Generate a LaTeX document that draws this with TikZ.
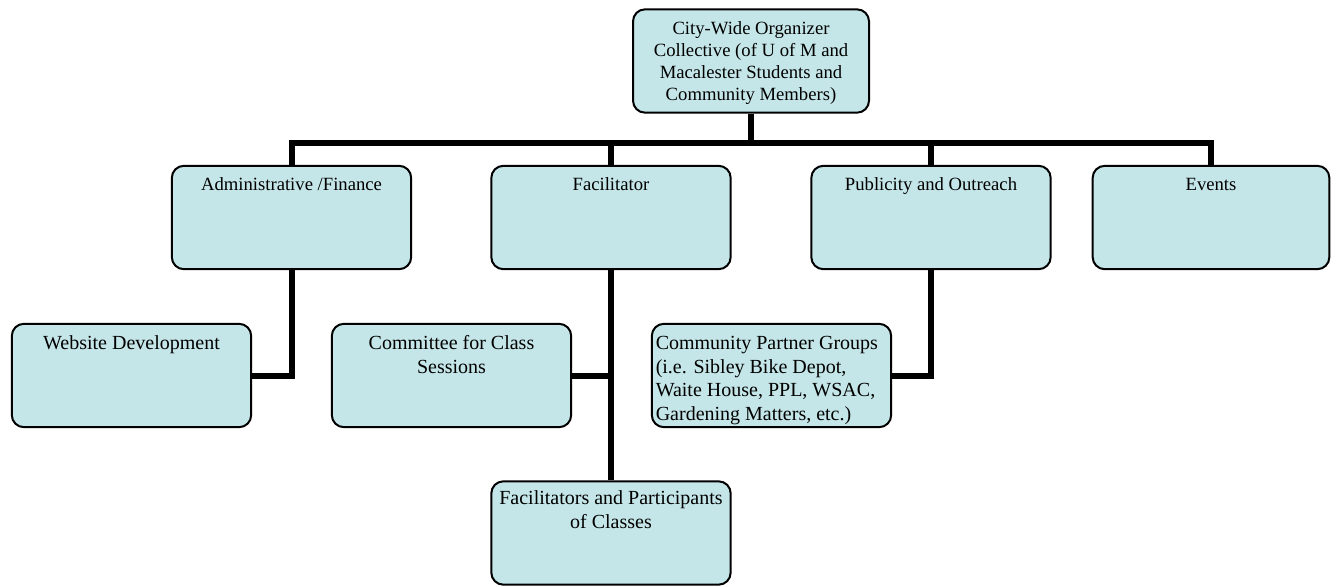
\documentclass[tikz,border=0pt]{standalone}
\usepackage{fontspec}
\setmainfont{Liberation Serif}
\definecolor{boxfill}{RGB}{197,230,232}
\tikzset{
  box/.style={draw=black, line width=1.5pt, fill=boxfill, rounded corners=9pt,
    minimum width=179.5pt, minimum height=77.5pt, inner sep=0pt},
  txt/.style={font=\fontsize{14}{16.5}\selectfont, align=center, inner sep=0pt, anchor=north},
  txtb/.style={txt, font=\fontsize{15}{17.8}\selectfont},
  conn/.style={line width=4.5pt, draw=black}
}
\begin{document}
\begin{tikzpicture}[x=0.75pt,y=-0.75pt]
\useasboundingbox (0,0) rectangle (1337,586);
% boxes
\node[box, minimum width=177pt] (top) at (751,61) {};
\node[box] (adm) at (291.5,217.5) {};
\node[box] (fac) at (611,217.5) {};
\node[box] (pub) at (931,217.5) {};
\node[box, minimum width=177.5pt] (ev) at (1211,217.5) {};
\node[box] (web) at (131.5,375.5) {};
\node[box] (com) at (451.5,375.5) {};
\node[box] (cp) at (771.5,375.5) {};
\node[box] (fp) at (611,533) {};
\coordinate (bar) at (0,143);
% texts
\node[txt] (ttop) at ([yshift=-7.5pt]top.north) {\strut City-Wide Organizer\\Collective (of U of M and\\Macalester Students and\\Community Members)};
\node[txt] (tadm) at ([yshift=-7.5pt]adm.north) {\strut Administrative /Finance};
\node[txt] (tfac) at ([yshift=-7.5pt]fac.north) {\strut Facilitator};
\node[txt] (tpub) at ([yshift=-7.5pt]pub.north) {\strut Publicity and Outreach};
\node[txt] (tev) at ([yshift=-7.5pt]ev.north) {\strut Events};
\node[txtb] (tweb) at ([yshift=-7.2pt]web.north) {\strut Website Development};
\node[txtb] (tcom) at ([yshift=-7.2pt]com.north) {\strut Committee for Class\\Sessions};
\node[txtb, align=left, anchor=north west] (tcp) at ([xshift=3.5pt,yshift=-7.2pt]cp.north west) {\strut Community Partner Groups\\(i.e. Sibley Bike Depot,\\Waite House, PPL, WSAC,\\Gardening Matters, etc.)};
\node[txtb] (tfp) at ([yshift=-5.8pt]fp.north) {\strut Facilitators and Participants\\of Classes};
% connectors
\draw[conn] (top.south) -- (top.south |- bar);
\draw[conn] (adm.north) |- (ev.north |- bar) -- (ev.north);
\draw[conn] (fac.north) -- (fac.north |- bar);
\draw[conn] (pub.north) -- (pub.north |- bar);
\draw[conn] (adm.south) |- (web.east);
\draw[conn] (fac.south) -- (fp.north);
\draw[conn] (com.east) -- (com.east -| fac.south);
\draw[conn] (pub.south) |- (cp.east);
\end{tikzpicture}
\end{document}
